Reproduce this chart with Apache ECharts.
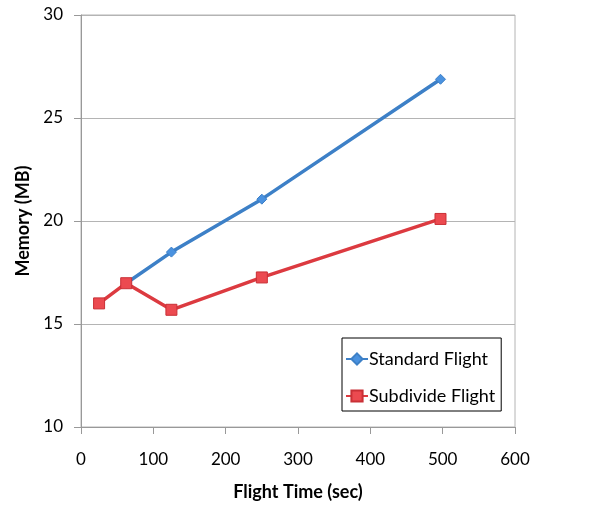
<!DOCTYPE html>
<html>
<head>
<meta charset="utf-8">
<script src="https://cdn.jsdelivr.net/npm/echarts@6/dist/echarts.min.js"></script>
<style>html,body{margin:0;padding:0;background:#fff}#c{width:600px;height:511px}</style>
</head>
<body>
<div id="c"></div>
<script>
var flightTime = [25, 62.5, 125, 250, 497];
var standardFlight = [null, 16.98, 18.49, 21.06, 26.88];
var subdivideFlight = [16.0, 16.98, 15.69, 17.26, 20.1];
var xTicks = [0, 100, 200, 300, 400, 500, 600];
var yTicks = [10, 15, 20, 25, 30];

function pairs(xs, ys) {
  var out = [];
  for (var i = 0; i < xs.length; i++) if (ys[i] != null) out.push([xs[i], ys[i]]);
  return out;
}
var font = 'Lato, "Open Sans", sans-serif';
var chart = echarts.init(document.getElementById('c'), null, {renderer: 'canvas'});
chart.setOption({
  animation: false,
  backgroundColor: '#fff',
  grid: {left: 81, right: 85, top: 15, bottom: 84, show: true, borderColor: '#b4b4b4', borderWidth: 1},
  xAxis: {
    type: 'value', min: xTicks[0], max: xTicks[xTicks.length - 1], interval: 100,
    name: 'Flight Time (sec)', nameLocation: 'middle', nameGap: 56,
    nameTextStyle: {fontFamily: font, fontWeight: 'bold', fontSize: 18, color: '#000'},
    axisLine: {show: true, lineStyle: {color: '#999', width: 1}},
    axisTick: {show: true, length: 7, lineStyle: {color: '#999'}},
    axisLabel: {fontFamily: font, fontSize: 17, color: '#000', margin: 24},
    splitLine: {show: false}
  },
  yAxis: {
    type: 'value', min: yTicks[0], max: yTicks[yTicks.length - 1], interval: 5,
    name: 'Memory (MB)', nameLocation: 'middle', nameGap: 47, nameRotate: 90,
    nameTextStyle: {fontFamily: font, fontWeight: 'bold', fontSize: 18, color: '#000'},
    axisLine: {show: true, lineStyle: {color: '#999', width: 1}},
    axisTick: {show: true, length: 7, lineStyle: {color: '#999'}},
    axisLabel: {fontFamily: font, fontSize: 17, color: '#000', margin: 18},
    splitLine: {show: true, lineStyle: {color: '#b4b4b4', width: 1}}
  },
  legend: {
    orient: 'vertical', left: 342, top: 338,
    padding: [12, 6, 6, 3], itemGap: 19, itemWidth: 22, itemHeight: 14,
    borderColor: '#000', borderWidth: 1, backgroundColor: '#fff',
    textStyle: {fontFamily: font, fontSize: 18, lineHeight: 18, color: '#000', padding: [0, 0, 0, -4]},
    data: ['Standard Flight', 'Subdivide Flight']
  },
  series: [
    {
      name: 'Standard Flight', type: 'line', data: pairs(flightTime, standardFlight),
      symbol: 'diamond', symbolSize: 10,
      lineStyle: {color: '#3d80c7', width: 3.5},
      itemStyle: {color: '#4a92e0', borderColor: '#3d80c7', borderWidth: 1}
    },
    {
      name: 'Subdivide Flight', type: 'line', data: pairs(flightTime, subdivideFlight),
      symbol: 'rect', symbolSize: 11,
      lineStyle: {color: '#dc3a40', width: 3.5},
      itemStyle: {color: '#ec4a50', borderColor: '#c93036', borderWidth: 1}
    }
  ]
});
</script>
</body>
</html>
